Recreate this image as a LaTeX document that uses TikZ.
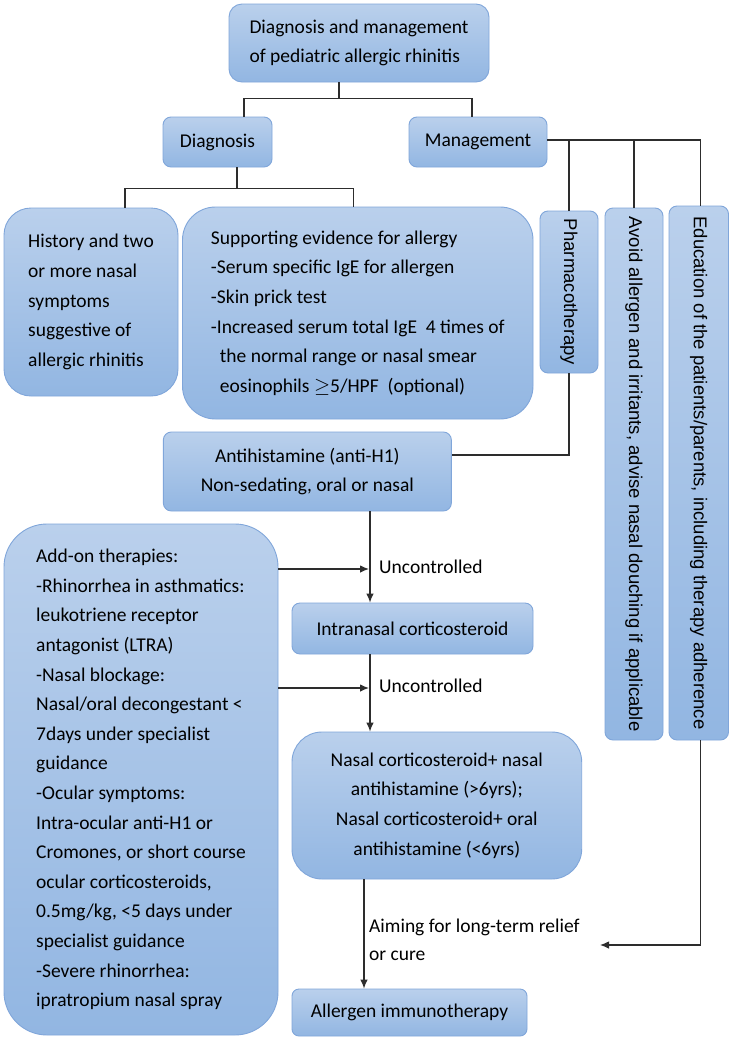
\documentclass[tikz,border=0pt]{standalone}
\usepackage{fontspec}
\setmainfont{Carlito}
\newfontfamily\arialf{Liberation Sans}
\usetikzlibrary{arrows.meta}
\definecolor{boxtop}{RGB}{186,208,236}
\definecolor{boxbot}{RGB}{146,182,226}
\definecolor{boxline}{RGB}{128,166,218}
\definecolor{conn}{RGB}{45,45,45}
\tikzset{
  box/.style={draw=boxline, line width=0.9pt, top color=boxtop, bottom color=boxbot,
    inner sep=0pt, font=\fontsize{19.5}{29.6}\selectfont},
  vtext/.style={rotate=-90, inner sep=0pt, font=\arialf\fontsize{18.5}{22}\selectfont},
  lbl/.style={inner sep=0pt, anchor=west, font=\fontsize{19.5}{28.5}\selectfont},
  conline/.style={draw=conn, line width=1.1pt},
  arr/.style={conline, -{Latex[length=9pt,width=7.5pt]}}
}
\begin{document}
\begin{tikzpicture}[x=1pt,y=-1pt]
\fill[white] (0,0) rectangle (732,1039);
\useasboundingbox (0,0) rectangle (732,1039);

% boxes
\node[box, rounded corners=13pt, minimum width=260pt, minimum height=78pt, align=left] (top) at (359,43)
  {Diagnosis and management\\of pediatric allergic rhinitis};
\node[box, rounded corners=8pt, minimum width=109pt, minimum height=50pt] (diag) at (217.5,142) {Diagnosis};
\node[box, rounded corners=8pt, minimum width=138pt, minimum height=50pt] (mgmt) at (478,142) {Management};
\node[box, rounded corners=27pt, minimum width=174pt, minimum height=188pt, align=left] (hist) at (91,302)
  {History and two\\or more nasal\\symptoms\\suggestive of\\allergic rhinitis};
\node[box, rounded corners=33pt, minimum width=350.5pt, minimum height=212pt, align=left] (supp) at (357.75,313)
  {Supporting evidence for allergy\\
   -Serum specific IgE for allergen\\
   -Skin prick test\\
   -Increased serum total IgE\ \ 4 times of\\
   \hspace*{9pt}the normal range or nasal smear\\
   \hspace*{9pt}eosinophils $\geq$5/HPF\ \ (optional)};
\node[box, rounded corners=8pt, minimum width=58pt, minimum height=162pt] (pharm) at (569,292) {};
\node[box, rounded corners=8pt, minimum width=58pt, minimum height=532pt] (avoid) at (634,474) {};
\node[box, rounded corners=8pt, minimum width=59.5pt, minimum height=534pt] (educ) at (698.75,473) {};
\node[vtext] (pharmt) at (pharm.center) {Pharmacotherapy};
\node[vtext] (avoidt) at (avoid.center) {Avoid allergen and irritants, advise nasal douching if applicable};
\node[vtext] (educt) at (educ.center) {Education of the patients/parents, including therapy adherence};
\node[box, rounded corners=8pt, minimum width=288pt, minimum height=79pt, align=center] (anti) at (307.35,471.5)
  {Antihistamine (anti-H1)\\Non-sedating, oral or nasal};
\node[box, rounded corners=43pt, minimum width=274pt, minimum height=511pt, align=left] (addon) at (141,779.5)
  {Add-on therapies:\\
   -Rhinorrhea in asthmatics:\\
   leukotriene receptor\\
   antagonist (LTRA)\\
   -Nasal blockage:\\
   Nasal/oral decongestant <\\
   7days under specialist\\
   guidance\\
   -Ocular symptoms:\\
   Intra-ocular anti-H1 or\\
   Cromones, or short course\\
   ocular corticosteroids,\\
   0.5mg/kg, <5 days under\\
   specialist guidance\\
   -Severe rhinorrhea:\\
   ipratropium nasal spray};
\node[box, rounded corners=8pt, minimum width=241pt, minimum height=51pt] (intra) at (412.5,628.5) {Intranasal corticosteroid};
\node[box, rounded corners=30pt, minimum width=289.7pt, minimum height=147pt, align=center] (nasal) at (436.85,805.5)
  {Nasal corticosteroid+ nasal\\antihistamine (>6yrs);\\Nasal corticosteroid+ oral\\antihistamine (<6yrs)};
\node[box, rounded corners=7pt, minimum width=235pt, minimum height=47pt] (aller) at (409.5,1012.5) {Allergen immunotherapy};

% junction coordinates
\coordinate (j0) at (339,98.3);
\coordinate (dx) at (244,0);
\coordinate (mx) at (472,0);
\coordinate (j1) at (237,188.3);
\coordinate (hx) at (125,0);
\coordinate (sx) at (353.5,0);
\coordinate (m0) at (700.5,140);
\coordinate (p1) at (569,455);
\coordinate (ax) at (370,0);
\coordinate (u1) at (369,569);
\coordinate (u2) at (369,688);
\coordinate (bx) at (364,0);
\coordinate (e1) at (600,945);

% connectors
\draw[conline] (top.south -| j0) -- (j0);
\draw[conline] (diag.north -| dx) |- (j0);
\draw[conline] (mgmt.north -| mx) |- (j0);
\draw[conline] (diag.south -| j1) -- (j1);
\draw[conline] (hist.north -| hx) |- (j1);
\draw[conline] (supp.north -| sx) |- (j1);
\draw[conline] (mgmt.east |- m0) -- (m0);
\draw[conline] (pharm.north) |- (m0);
\draw[conline] (avoid.north) |- (m0);
\draw[conline] (educ.north -| m0) -- (m0);
\draw[conline] (pharm.south) |- (anti.east |- p1);
\draw[arr] (anti.south -| ax) -- (intra.north -| ax);
\draw[arr] (addon.east |- u1) -- (u1);
\draw[arr] (intra.south -| ax) -- (nasal.north -| ax);
\draw[arr] (addon.east |- u2) -- (u2);
\draw[arr] (nasal.south -| bx) -- (aller.north -| bx);
\draw[arr] (educ.south -| m0) |- (e1);

% labels
\node[lbl] (lu1) at (379,567) {Uncontrolled};
\node[lbl] (lu2) at (379,686) {Uncontrolled};
\node[lbl, align=left] (laim) at (369,940) {Aiming for long-term relief\\or cure};
\end{tikzpicture}
\end{document}
